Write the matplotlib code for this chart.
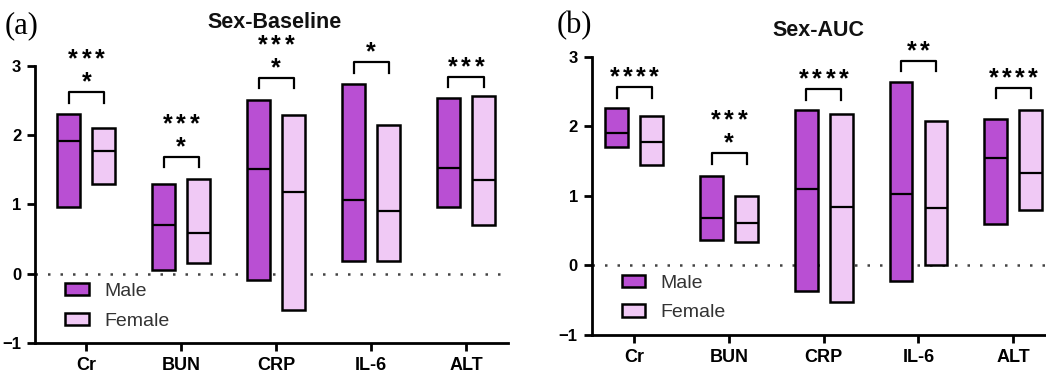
import numpy as np
import matplotlib.pyplot as plt
from matplotlib.patches import Patch

plt.rcParams['font.family'] = ['Liberation Sans', 'DejaVu Sans']

categories = ['Cr', 'BUN', 'CRP', 'IL-6', 'ALT']

# Sex-Baseline: floating bars (min, max, median)
base_male_lo = [0.965, 0.06, -0.09, 0.19, 0.96]
base_male_hi = [2.30, 1.30, 2.50, 2.74, 2.53]
base_male_med = [1.92, 0.70, 1.51, 1.07, 1.53]
base_fem_lo = [1.29, 0.16, -0.52, 0.19, 0.71]
base_fem_hi = [2.11, 1.37, 2.29, 2.14, 2.57]
base_fem_med = [1.77, 0.59, 1.18, 0.91, 1.35]
base_bracket = [2.62, 1.69, 2.83, 3.05, 2.84]
base_stars = [['***', '*'], ['***', '*'], ['***', '*'], ['*'], ['***']]

# Sex-AUC
auc_male_lo = [1.70, 0.37, -0.37, -0.22, 0.59]
auc_male_hi = [2.26, 1.28, 2.23, 2.63, 2.11]
auc_male_med = [1.91, 0.68, 1.10, 1.03, 1.54]
auc_fem_lo = [1.45, 0.34, -0.53, 0.01, 0.79]
auc_fem_hi = [2.15, 0.99, 2.17, 2.07, 2.23]
auc_fem_med = [1.77, 0.61, 0.84, 0.82, 1.33]
auc_bracket = [2.56, 1.61, 2.53, 2.94, 2.55]
auc_stars = [['****'], ['***', '*'], ['****'], ['**'], ['****']]

male_color = '#b94fd3'
fem_color = '#f0c9f5'


def draw_panel(ax, male, fem, bracket, stars, xlim):
    x = np.arange(len(categories))
    w = 0.24
    off = 0.185
    for lo, hi, med, dx, col in [(*male, -off, male_color), (*fem, off, fem_color)]:
        lo = np.array(lo)
        hi = np.array(hi)
        ax.bar(x + dx, hi - lo, bottom=lo, width=w, color=col,
               edgecolor='black', linewidth=1.8, zorder=3)
        ax.hlines(med, x + dx - w / 2, x + dx + w / 2, color='black',
                  linewidth=1.6, zorder=4)
    ax.axhline(0, color='#444444', linestyle=(0, (1, 4)), linewidth=1.8, zorder=1)
    # significance brackets + stars (one text per star so spacing is controlled)
    step = 0.14
    for i, (b, st) in enumerate(zip(bracket, stars)):
        x0, x1 = x[i] - off, x[i] + off
        ax.plot([x0, x0, x1, x1], [b - 0.15, b, b, b - 0.15], color='black',
                linewidth=1.6, clip_on=False, zorder=5)
        for j, s in enumerate(reversed(st)):
            n = len(s)
            for k in range(n):
                ax.text(x[i] + (k - (n - 1) / 2) * step, b + 0.14 + j * 0.33, '*',
                        ha='center', va='center', fontsize=18, fontweight='bold',
                        clip_on=False)
    ax.set_xlim(*xlim)
    ax.set_ylim(-1, 3)
    ax.set_yticks([-1, 0, 1, 2, 3])
    ax.set_xticks(x)
    ax.set_xticklabels(categories, fontsize=13, fontweight='bold')
    for lab in ax.get_yticklabels():
        lab.set_fontweight('bold')
        lab.set_fontsize(12)
    ax.spines['top'].set_visible(False)
    ax.spines['right'].set_visible(False)
    ax.spines['left'].set_linewidth(2)
    ax.spines['bottom'].set_linewidth(2)
    ax.tick_params(width=2, length=6, pad=4)
    handles = [Patch(facecolor=male_color, edgecolor='black', linewidth=1.8, label='Male'),
               Patch(facecolor=fem_color, edgecolor='black', linewidth=1.8, label='Female')]
    leg = ax.legend(handles=handles, loc='lower left', frameon=False, fontsize=14,
                    handlelength=1.2, handleheight=0.6, labelspacing=0.65,
                    handletextpad=0.8, borderaxespad=0.3, bbox_to_anchor=(0.035, 0.0))
    for t in leg.get_texts():
        t.set_color('#333333')


fig = plt.figure(figsize=(10.46, 3.78), dpi=100)
ax1 = fig.add_axes([0.0335, 0.092, 0.452, 0.734])
ax2 = fig.add_axes([0.5657, 0.114, 0.45, 0.736])

draw_panel(ax1, (base_male_lo, base_male_hi, base_male_med),
           (base_fem_lo, base_fem_hi, base_fem_med),
           base_bracket, base_stars, (-0.54, 4.44))
draw_panel(ax2, (auc_male_lo, auc_male_hi, auc_male_med),
           (auc_fem_lo, auc_fem_hi, auc_fem_med),
           auc_bracket, auc_stars, (-0.45, 4.52))

fig.text(275 / 1046, 1 - 22 / 378, 'Sex-Baseline', fontsize=15.5, fontweight='bold',
         ha='center', va='center', color='#111111')
fig.text(818 / 1046, 1 - 30 / 378, 'Sex-AUC', fontsize=15.5, fontweight='bold',
         ha='center', va='center', color='#111111')

fig.text(0.004, 0.97, '(a)', fontsize=22, family='Liberation Serif', va='top')
fig.text(0.532, 0.97, '(b)', fontsize=22, family='Liberation Serif', va='top')

fig.savefig('out.png', dpi=100)
